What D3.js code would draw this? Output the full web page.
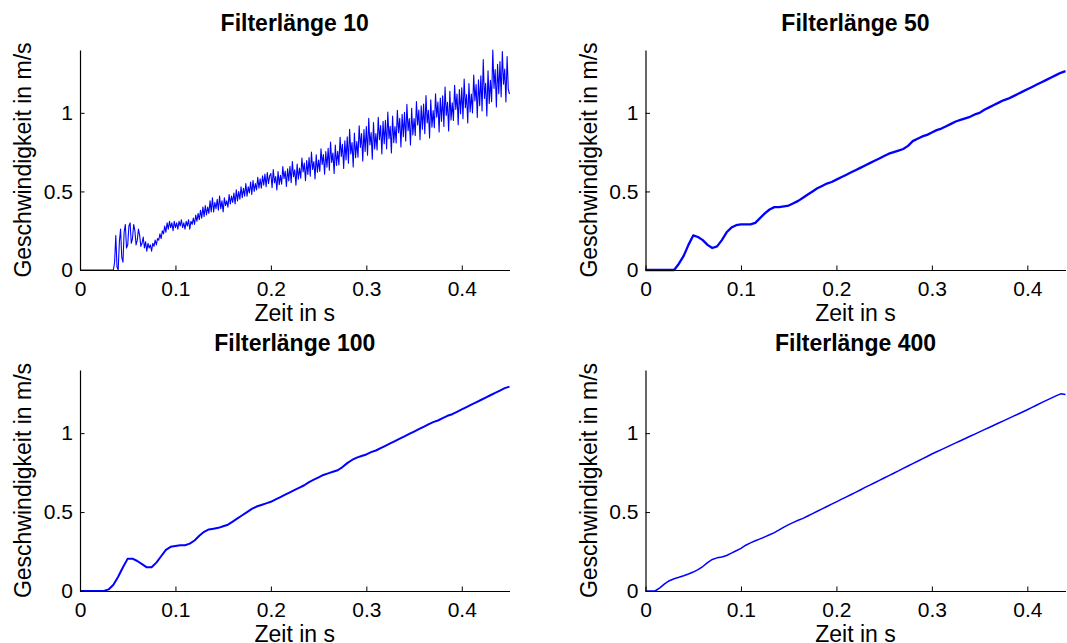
<!DOCTYPE html>
<html>
<head>
<meta charset="utf-8">
<script src="https://cdn.jsdelivr.net/npm/d3@7"></script>
<style>
  html, body { margin: 0; padding: 0; background: #fff; }
  svg { display: block; }
  text { font-family: "Liberation Sans", Arial, Helvetica, sans-serif; fill: #000; }
</style>
</head>
<body>
<svg id="chart" width="1067" height="643"></svg>
<script>
// ---------------- DATA ----------------
const titles = ["Filterlänge 10", "Filterlänge 50", "Filterlänge 100", "Filterlänge 400"];
const xLabel = "Zeit in s";
const yLabel = "Geschwindigkeit in m/s";
const xTicks = [0, 0.1, 0.2, 0.3, 0.4];
const yTicks = [0, 0.5, 1];
const xMaxLeft = 0.45;   // Filterlänge 10 / 100
const xMaxRight = 0.44;  // Filterlänge 50 / 400
const yMax = 1.4;

// sample spacing (s) of each series
const step10 = 0.00125;
const v10 = [
  0,0,0,0,0,0,0,0,0,0,0,0,0,0,0,0,0,0,0,0,0,0,0,0,0,0,0,0,0,
  0.05,0.22,0.02,0.0,0.18,0.26,0.08,0.05,0.24,0.29,0.14,0.16,0.28,0.30,0.17,0.20,
  0.29,0.25,0.16,0.19,0.26,0.22,0.15,0.17,0.21,0.14,0.18,0.12,0.17,0.14,0.16,0.12,
  0.17,0.15,0.19,0.16,0.20,0.19,0.23,0.20,0.25,0.23,0.28,0.24,0.30,0.26,0.31,0.27,0.30,0.25,0.31,0.27,
  0.30,0.26,0.31, 0.28,0.32,0.27,0.30, 0.26,0.31,0.28,0.32, 0.26,0.31,0.29,0.33, 0.29,0.35,0.31,0.36,
  0.32,0.38,0.33,0.40, 0.34,0.41,0.35,0.40, 0.36,0.44,0.37,0.46, 0.37,0.43,0.39,0.45, 0.38,0.47,0.39,0.44,
  0.37,0.46,0.41,0.44, 0.40,0.48,0.42,0.47, 0.43,0.49,0.42,0.51, 0.44,0.50,0.45,0.53, 0.46,0.52,0.47,0.55,
  0.47,0.53,0.49,0.56, 0.48,0.57,0.50,0.55, 0.51,0.59,0.52,0.58, 0.52,0.60,0.54,0.61, 0.53,0.62,0.55,0.60,
  0.614,0.523,0.64,0.555,0.595,0.51,0.627,0.543,
  0.602,0.546,0.658,0.581,0.63,0.532,0.644,0.567,
  0.66,0.555,0.69,0.593,0.638,0.54,0.675,0.578,
  0.648,0.584,0.712,0.624,0.68,0.568,0.696,0.608,
  0.716,0.597,0.75,0.64,0.69,0.58,0.733,0.623,
  0.699,0.627,0.771,0.672,0.735,0.609,0.753,0.654,
  0.775,0.635,0.815,0.685,0.745,0.615,0.795,0.665,
  0.756,0.668,0.844,0.723,0.80,0.646,0.822,0.701,
  0.847,0.679,0.895,0.739,0.811,0.655,0.871,0.715,
  0.818,0.718,0.918,0.78,0.868,0.693,0.893,0.755,
  0.913,0.731,0.965,0.796,0.874,0.705,0.939,0.77,
  0.868,0.764,0.972,0.829,0.92,0.738,0.946,0.803,
  0.953,0.771,1.005,0.836,0.914,0.745,0.979,0.81,
  0.913,0.809,1.017,0.874,0.965,0.783,0.991,0.848,
  1.003,0.821,1.055,0.886,0.964,0.795,1.029,0.86,
  0.964,0.856,1.072,0.923,1.018,0.829,1.045,0.896,
  1.056,0.867,1.11,0.935,1.016,0.84,1.083,0.908,
  1.014,0.906,1.122,0.973,1.068,0.879,1.095,0.946,
  1.109,0.913,1.165,0.983,1.067,0.885,1.137,0.955,
  1.064,0.952,1.176,1.022,1.12,0.924,1.148,0.994,
  1.159,0.963,1.215,1.033,1.117,0.935,1.187,1.005,
  1.12,1.0,1.24,1.075,1.18,0.97,1.21,1.045,
  1.236,1.012,1.34,1.092,1.188,0.98,1.268,1.06,
  1.207,1.071,1.40,1.156,1.275,1.037,1.309,1.122,
  1.326,1.102,1.39,1.182,1.278,1.07,1.358,1.15,
  1.12
];

const step50 = 0.005;
const v50 = [
  0,0,0,0,0,0,0,0.04,0.09,0.16,0.22,0.21,0.19,0.16,0.14,0.15,0.19,0.24,0.27,0.285,
  0.29,0.29,0.29,0.30,0.33,0.36,0.385,0.40,0.40,0.405,0.41,0.425,0.44,0.46,0.48,0.50,
  0.52,0.535,0.55,0.56,0.575,0.59,0.605,0.62,0.635,0.65,0.665,0.68,0.695,0.71,0.725,
  0.74,0.75,0.76,0.77,0.79,0.82,0.835,0.85,0.86,0.875,0.89,0.90,0.915,0.93,0.945,
  0.955,0.965,0.975,0.99,1.00,1.02,1.035,1.05,1.065,1.08,1.09,1.105,1.12,1.135,1.15,
  1.165,1.18,1.195,1.21,1.225,1.24,1.255,1.265
];

const step100 = 0.005;
const v100 = [
  0,0,0,0,0,0,0.01,0.04,0.09,0.15,0.205,0.205,0.19,0.17,0.15,0.15,0.18,0.22,0.26,0.28,
  0.285,0.29,0.29,0.30,0.32,0.35,0.375,0.39,0.395,0.40,0.41,0.42,0.44,0.46,0.48,0.50,
  0.52,0.535,0.545,0.555,0.565,0.58,0.595,0.61,0.625,0.64,0.655,0.67,0.69,0.705,0.72,
  0.735,0.745,0.755,0.765,0.785,0.81,0.83,0.845,0.855,0.865,0.88,0.89,0.905,0.92,0.935,
  0.95,0.965,0.98,0.995,1.01,1.025,1.04,1.055,1.07,1.08,1.095,1.11,1.12,1.135,1.15,
  1.165,1.18,1.195,1.21,1.225,1.24,1.255,1.27,1.285,1.295
];

const step400 = 0.005;
const v400 = [
  0,0,0,0.02,0.045,0.065,0.078,0.087,0.097,0.108,0.12,0.135,0.155,0.18,0.20,0.21,0.215,
  0.225,0.24,0.255,0.27,0.29,0.305,0.318,0.33,0.343,0.356,0.37,0.387,0.405,0.42,0.435,
  0.448,0.46,0.475,0.49,0.505,0.52,0.535,0.55,0.565,0.58,0.595,0.61,0.625,0.64,0.656,
  0.671,0.686,0.701,0.716,0.731,0.746,0.761,0.777,0.792,0.807,0.822,0.837,0.852,0.868,
  0.882,0.896,0.91,0.924,0.938,0.952,0.966,0.98,0.994,1.008,1.022,1.036,1.05,1.064,
  1.078,1.092,1.106,1.12,1.134,1.148,1.163,1.178,1.193,1.208,1.222,1.236,1.249,1.245
];

// ---------------- LAYOUT ----------------
const FS_TICK = 21, FS_LABEL = 23, FS_TITLE = 23;
const panels = [
  { title: titles[0], values: v10,  step: step10,  xMax: xMaxLeft,  left: 80,    right: 509.5,  top: 50,  bottom: 270, sw: 1.1 },
  { title: titles[1], values: v50,  step: step50,  xMax: xMaxRight, left: 645.5, right: 1065.5, top: 50,  bottom: 270, sw: 2.3 },
  { title: titles[2], values: v100, step: step100, xMax: xMaxLeft,  left: 80,    right: 509.5,  top: 370, bottom: 591, sw: 2.0 },
  { title: titles[3], values: v400, step: step400, xMax: xMaxRight, left: 645.5, right: 1065.5, top: 370, bottom: 591, sw: 1.5 }
];

const svg = d3.select("#chart");

panels.forEach(p => {
  const x = d3.scaleLinear().domain([0, p.xMax]).range([p.left, p.right]);
  const y = d3.scaleLinear().domain([0, yMax]).range([p.bottom, p.top]);
  const g = svg.append("g");

  const data = p.values.map((v, i) => ({ t: i * p.step, v }));

  g.append("path")
    .datum(data)
    .attr("fill", "none")
    .attr("stroke", "#0000ff")
    .attr("stroke-width", p.sw)
    .attr("stroke-linejoin", "round")
    .attr("d", d3.line().x(d => x(d.t)).y(d => y(d.v)));

  // x axis
  const xAxis = g.append("g")
    .attr("transform", `translate(0,${p.bottom})`)
    .call(d3.axisBottom(x).tickValues(xTicks).tickSizeInner(-4.5).tickSizeOuter(0)
      .tickFormat(d => d === 0 ? "0" : d3.format(".1f")(d)).tickPadding(11));
  xAxis.select(".domain").attr("stroke", "#000").attr("stroke-width", 1.2);
  xAxis.selectAll(".tick line").attr("stroke", "#000");
  xAxis.selectAll(".tick text")
    .attr("font-size", FS_TICK).attr("dy", "0.71em")
    .style("font-family", "'Liberation Sans', Arial, sans-serif").attr("fill", "#000");

  // y axis
  const yAxis = g.append("g")
    .attr("transform", `translate(${p.left},0)`)
    .call(d3.axisLeft(y).tickValues(yTicks).tickSizeInner(-4.5).tickSizeOuter(0)
      .tickFormat(d => d === 0 ? "0" : (d === 1 ? "1" : "0.5")).tickPadding(7));
  yAxis.select(".domain").attr("stroke", "#000").attr("stroke-width", 1.2);
  yAxis.selectAll(".tick line").attr("stroke", "#000");
  yAxis.selectAll(".tick text")
    .attr("font-size", FS_TICK)
    .style("font-family", "'Liberation Sans', Arial, sans-serif").attr("fill", "#000");

  // title
  g.append("text")
    .attr("x", (p.left + p.right) / 2)
    .attr("y", p.top - 19)
    .attr("text-anchor", "middle")
    .attr("font-size", FS_TITLE)
    .attr("font-weight", "bold")
    .text(p.title);

  // x label
  g.append("text")
    .attr("x", (p.left + p.right) / 2)
    .attr("y", p.bottom + 51)
    .attr("text-anchor", "middle")
    .attr("font-size", FS_LABEL)
    .text(xLabel);

  // y label
  g.append("text")
    .attr("transform", `translate(${p.left - 49},${(p.top + p.bottom) / 2}) rotate(-90)`)
    .attr("text-anchor", "middle")
    .attr("font-size", FS_LABEL)
    .text(yLabel);
});
</script>
</body>
</html>
